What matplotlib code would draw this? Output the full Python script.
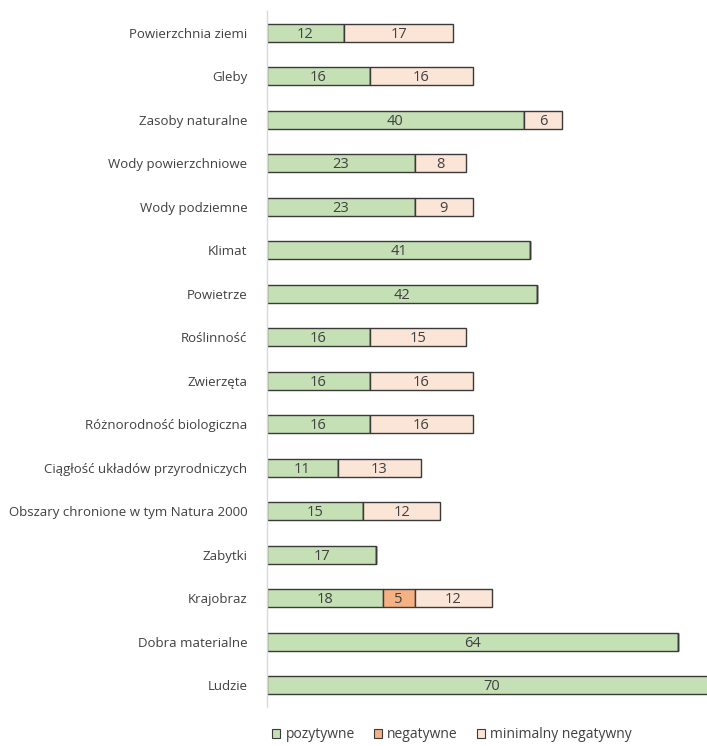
import matplotlib
matplotlib.use("Agg")
import matplotlib.pyplot as plt
from matplotlib.patches import Patch
import numpy as np

plt.rcParams['font.family'] = ['Open Sans', 'DejaVu Sans']

categories = ["Powierzchnia ziemi", "Gleby", "Zasoby naturalne", "Wody powierzchniowe",
              "Wody podziemne", "Klimat", "Powietrze", "Roślinność", "Zwierzęta",
              "Różnorodność biologiczna", "Ciągłość układów przyrodniczych",
              "Obszary chronione w tym Natura 2000", "Zabytki", "Krajobraz",
              "Dobra materialne", "Ludzie"]
pozytywne = [12, 16, 40, 23, 23, 41, 42, 16, 16, 16, 11, 15, 17, 18, 64, 70]
negatywne = [0, 0, 0, 0, 0, 0, 0, 0, 0, 0, 0, 0, 0, 5, 0, 0]
minimalny = [17, 16, 6, 8, 9, 0, 0, 15, 16, 16, 13, 12, 0, 12, 0, 0]
series_names = ["pozytywne", "negatywne", "minimalny negatywny"]

colors = ["#C5E0B4", "#F4B183", "#FBE5D6"]
text_col = "#404040"

fig = plt.figure(figsize=(7.07, 7.46), dpi=100)
ax = fig.add_axes([267 / 707, 1 - 707 / 746, 1 - 267 / 707, 696 / 746])

y = np.arange(len(categories))
left = np.zeros(len(categories))
for vals, col in zip([pozytywne, negatywne, minimalny], colors):
    vals = np.array(vals, dtype=float)
    bars = ax.barh(y, vals, left=left, height=0.41, color=col,
                   edgecolor="#3a3a3a", linewidth=1.0)
    for b, v, l in zip(bars, vals, left):
        if v > 0:
            ax.text(l + v / 2, b.get_y() + b.get_height() / 2 + 0.03, f"{int(v)}",
                    ha="center", va="center", fontsize=10.5, color=text_col)
    left = left + vals

ax.set_xlim(0, 68.5)
ax.set_ylim(len(categories) - 0.5, -0.5)
ax.set_yticks(y)
ax.set_yticklabels(categories, fontsize=9.5, color=text_col)
ax.tick_params(axis="y", length=0, pad=14)
ax.set_xticks([])
for s in ["top", "right", "bottom"]:
    ax.spines[s].set_visible(False)
ax.spines["left"].set_color("#d9d9d9")
ax.spines["left"].set_linewidth(1.0)

handles = [Patch(facecolor=c, edgecolor="#3a3a3a", linewidth=0.8) for c in colors]
fig.legend(handles, series_names, loc="center", bbox_to_anchor=(452 / 707, 1 - 735 / 746),
           ncol=3, frameon=False, fontsize=10, handlelength=0.6, handleheight=0.6,
           handletextpad=0.36, columnspacing=1.37, labelcolor=text_col,
           borderpad=0.1)

fig.savefig("out.png", dpi=100)
